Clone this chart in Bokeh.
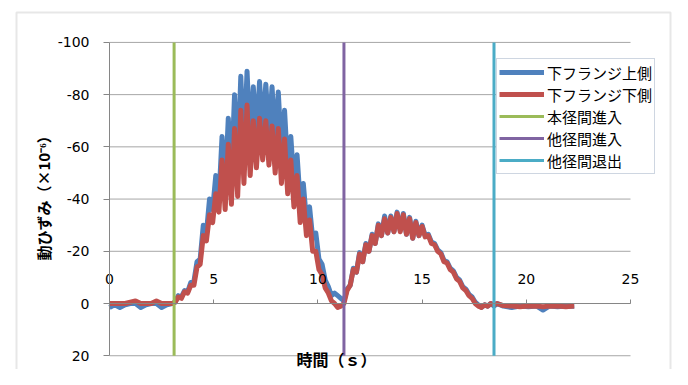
import math
import numpy as np
from bokeh.plotting import figure
from bokeh.models import (Range1d, LinearAxis, FixedTicker, Legend, LegendItem,
                          Label, BoxAnnotation)
from bokeh.embed import file_html
from bokeh.resources import INLINE

# ---------------- data ----------------
x_ticks = [0, 5, 10, 15, 20, 25]
y_ticks = [-100, -80, -60, -40, -20, 0, 20]
y_limits = [20, -100]

x_title = "時間（ｓ）"
y_title = "動ひずみ（×10⁻⁶）"
series_names = ["下フランジ上側", "下フランジ下側"]
marker_names = ["本径間進入", "他径間進入", "他径間退出"]
marker_times = [3.1, 11.25, 18.45]

# flat part before the vehicle enters
t_lead = [0.0, 0.25, 0.5, 0.75, 1.0, 1.25, 1.5, 1.75, 2.0, 2.25, 2.5, 2.75]
upper_lead = [1.5, 0.5, 1.5, 0.5, 0, 0, 1.5, 0.5, 0, 0, 1.5, 0.5]
lower_lead = [0, 0, 0, 0, -0.5, -1, 0, 0, 0, -1, 0, 0]

# active part, sampled every 0.15 s from 3.0 s to 18.6 s
t_active = np.round(np.arange(3.0, 18.61, 0.15), 2)
upper_active = [
    0, -0.5, -3, -2.5, -5, -4.5, -8, -8.5, -16, -17,
    -30, -27, -40, -36, -49, -40, -64, -44, -71, -48,
    -80, -52, -87, -58, -89, -62, -83, -64, -85, -66,
    -84, -65, -83, -62, -81, -58, -74, -52, -64, -46,
    -57, -39, -46, -32, -37, -25, -27, -17, -15, -9,
    -6.5, -3, -4, -3, -2, -1, -5.5, -7, -13.5, -12,
    -19.5, -16, -23, -20, -26.5, -23, -30.5, -26, -33.5, -27,
    -33.5, -27.5, -35, -28, -34.5, -26.5, -33, -25, -31.5, -26,
    -30, -26, -26.5, -23.5, -23, -20.5, -19.5, -16.5, -16, -13.5,
    -12.5, -10, -9, -6.5, -5.5, -3.5, -2.5, -0.5, 0.5, 1.5,
    0.5, 1, 0, 1, 0,
]
lower_active = [
    0, -0.5, -2.5, -2, -4.5, -4, -7, -7, -14, -15,
    -26, -24, -34, -31, -42, -35, -55, -36, -61, -38,
    -67, -41, -74, -46, -76, -49, -70, -52, -71, -55,
    -70, -53, -68, -50, -67, -46, -63, -42, -55, -37,
    -49, -31, -40, -26, -32, -20, -20, -13, -11, -6,
    -4, -1, 0, 1.5, 1, 0, -5, -7, -13, -12,
    -19, -16, -22.5, -20, -26, -23, -30, -26, -32.5, -27,
    -33, -27.5, -34.5, -27.5, -34, -26.5, -32.5, -25, -31, -26,
    -29.5, -25.5, -26, -23, -22.5, -20, -19, -16, -15.5, -13,
    -12, -9.5, -8.5, -6, -5, -3, -2, 0, 1, 1.5,
    0.5, 1, 0, 0.5, 0,
]

# flat part after the vehicle leaves
t_tail = [18.9, 19.3, 19.7, 20.1, 20.5, 20.8, 21.1, 21.5, 21.9, 22.3]
upper_tail = [1, 1.5, 1, 1.2, 1, 2.5, 1, 1.2, 1, 1]
lower_tail = [0.8, 1, 1.2, 1, 1, 1.2, 1, 1, 1.2, 1]

t_all = list(t_lead) + list(t_active) + list(t_tail)
upper = upper_lead + upper_active + upper_tail
lower = lower_lead + lower_active + lower_tail

series_colors = ["#4F81BD", "#C0504D"]
marker_colors = ["#9BBB59", "#8064A2", "#4BACC6"]

# ---------------- figure ----------------
# the frame fills the whole canvas; the view window is wider than the
# axis span so that ticks, labels and titles sit inside it
view_x = (-5.230, 27.015)
view_y = (25.27, -116.05)

p = figure(width=672, height=369,
           x_range=Range1d(*view_x), y_range=Range1d(*view_y),
           output_backend="svg", toolbar_location=None,
           x_axis_location=None, y_axis_location=None,
           min_border_left=0, min_border_right=0,
           min_border_top=0, min_border_bottom=0)
p.outline_line_color = None
p.background_fill_color = "white"
p.border_fill_color = "white"
p.xgrid.grid_line_color = None
p.ygrid.grid_line_color = None

# chart-area border (its bottom edge lies below the visible area)
p.add_layout(BoxAnnotation(left=16, right=670, top=357, bottom=-20,
                           left_units="screen", right_units="screen",
                           top_units="screen", bottom_units="screen",
                           fill_alpha=0, line_color="#b0b0b0", line_width=2,
                           level="underlay"))

# horizontal grid lines spanning the x-axis extent
p.segment(x0=[x_ticks[0]] * len(y_ticks), y0=y_ticks,
          x1=[x_ticks[-1]] * len(y_ticks), y1=y_ticks,
          line_color="#a6a6a6", line_width=1)

# y axis at x = 0
ya = LinearAxis(fixed_location=0, ticker=FixedTicker(ticks=y_ticks),
                bounds=(y_ticks[0], y_ticks[-1]))
ya.major_label_overrides = {v: str(v) for v in y_ticks}
ya.axis_line_color = "#868686"
ya.major_tick_line_color = "#868686"
ya.major_tick_out = 6
ya.major_tick_in = 0
ya.minor_tick_line_color = None
ya.major_label_text_font = "DejaVu Sans"
ya.major_label_text_font_size = "14px"
ya.major_label_text_color = "black"
ya.major_label_standoff = 14
p.add_layout(ya, "left")

# x axis crossing at y = 0
xa = LinearAxis(fixed_location=0, ticker=FixedTicker(ticks=x_ticks),
                bounds=(x_ticks[0], x_ticks[-1]))
xa.major_label_overrides = {v: str(v) for v in x_ticks}
xa.axis_line_color = "#868686"
xa.major_tick_line_color = "#868686"
xa.major_tick_out = 4
xa.major_tick_in = 0
xa.minor_tick_line_color = None
xa.major_label_text_font = "DejaVu Sans"
xa.major_label_text_font_size = "14px"
xa.major_label_text_color = "black"
xa.major_label_standoff = 16
p.add_layout(xa, "above")

# axis titles (screen units, relative to the frame's bottom-left)
p.add_layout(Label(x=296, y=11, x_units="screen", y_units="screen",
                   text=x_title, text_align="left", text_baseline="middle",
                   text_font="Noto Sans CJK JP", text_font_size="16px",
                   text_font_style="bold", text_color="black"))
p.add_layout(Label(x=43, y=109, x_units="screen", y_units="screen",
                   text=y_title, angle=math.pi / 2, angle_units="rad",
                   text_align="left", text_baseline="middle",
                   text_font="Noto Sans CJK JP", text_font_size="15px",
                   text_font_style="bold", text_color="black"))

# data lines
r_up = p.line(t_all, upper, line_color=series_colors[0], line_width=5, line_join="round")
r_lo = p.line(t_all, lower, line_color=series_colors[1], line_width=5, line_join="round")

marker_renderers = []
for mt, mc in zip(marker_times, marker_colors):
    r = p.line([mt, mt], y_limits, line_color=mc, line_width=3)
    marker_renderers.append(r)

items = [LegendItem(label=series_names[0], renderers=[r_up]),
         LegendItem(label=series_names[1], renderers=[r_lo])]
for nm, r in zip(marker_names, marker_renderers):
    items.append(LegendItem(label=nm, renderers=[r]))

legend = Legend(items=items, location=(496, 195))
legend.label_text_font = "Noto Sans CJK JP"
legend.label_text_font_size = "15px"
legend.label_text_line_height = 1.0
legend.label_text_color = "black"
legend.glyph_width = 45
legend.glyph_height = 22
legend.label_height = 22
legend.label_standoff = 3
legend.spacing = 0
legend.padding = 2
legend.margin = 0
legend.border_line_color = "#9eaec4"
legend.border_line_width = 1
legend.background_fill_color = "white"
legend.background_fill_alpha = 1
p.add_layout(legend, "center")

open("out.html", "w").write(file_html(p, INLINE))
